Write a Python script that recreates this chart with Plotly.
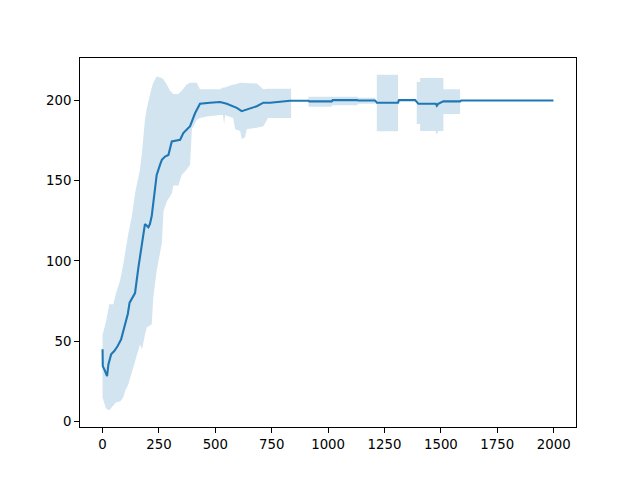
import plotly.graph_objects as go

# Mean curve
ep = [0, 1, 8, 20, 26, 38, 52, 67, 82, 97, 112, 120, 144, 159, 174, 188, 203, 210, 218,
      233, 240, 255, 263, 277, 292, 307, 344, 358, 388, 410, 432, 476, 521, 551, 595, 617, 639,
      684, 713, 743, 787, 831, 913, 916, 1016, 1020, 1129, 1133, 1208, 1216, 1310, 1314,
      1386, 1400, 1478, 1482, 1488, 1511, 1585, 1590, 1999]
mean = [45, 34.5, 32.4, 28.2, 35.5, 41.8, 43.9, 47, 51, 58.5, 67, 74, 80, 96, 110.8, 123, 121, 123, 128,
        146, 153.6, 160, 163, 165, 166, 174.5, 175.5, 179.7, 184, 192, 198, 198.6, 199, 198, 195.4, 193.3, 194.4,
        196.4, 198.6, 198.6, 199.2, 199.8, 199.8, 199.4, 199.4, 200.2, 200.2, 200, 200, 198.6, 198.6, 200.2,
        200.2, 197.9, 197.9, 196.7, 197.9, 199.4, 199.4, 200, 200]

# Band (mean +/- std)
band_x = [0, 15, 30, 48, 60, 78, 92, 100, 114, 129, 144, 166, 175, 188, 196, 218, 225, 240, 263, 270,
          285, 299, 307, 314, 336, 351, 373, 388, 396, 418, 432, 462, 521, 534, 539, 543, 579, 588, 610,
          617, 632, 639, 684, 713, 734, 836, 836, 913, 913, 1016, 1016, 1129, 1133, 1208, 1208,
          1216, 1216, 1310, 1310, 1393, 1393, 1408, 1408, 1476, 1482, 1488, 1511, 1511, 1585, 1585, 1999]
band_lo = [15, 8, 7, 10, 12, 12.5, 15, 19, 23, 30, 37, 48, 45, 54, 58.5, 60.6, 77, 94, 111, 131,
           137, 140, 142, 147, 147, 153.6, 157, 160, 182, 188, 189, 190, 191, 191, 185, 191, 189, 182, 181,
           176, 177, 182, 183, 184, 189, 189, 199.8, 199.8, 196, 196, 197, 197, 198, 198, 200,
           198.6, 180.8, 180.8, 200.2, 200.2, 185.4, 185.4, 181, 181, 178.7, 181, 181, 191.6, 191.6, 200, 200]
band_hi = [54, 62, 73, 73, 80, 88, 98, 105, 117, 127, 142, 157, 168, 188, 195, 208, 211, 215, 214, 213,
           210, 206, 205, 204, 204, 206, 210, 211, 211, 211, 207, 207, 207, 208, 208, 208, 210, 210, 211,
           211, 211, 211, 210.6, 207, 207.3, 207.3, 199.8, 199.8, 202.3, 202.3, 202.3, 202.3, 201.7, 201.7, 200,
           198.6, 216, 216, 200.2, 200.2, 211.5, 211.5, 214, 214, 214, 214, 214, 207, 207, 200, 200]

x_ticks = [0, 250, 500, 750, 1000, 1250, 1500, 1750, 2000]
y_ticks = [0, 50, 100, 150, 200]

color = "#1f77b4"

fig = go.Figure()
fig.add_trace(go.Scatter(
    x=band_x + band_x[::-1],
    y=band_hi + band_lo[::-1],
    fill="toself", fillcolor="rgba(31,119,180,0.2)",
    line=dict(width=0), mode="lines", hoverinfo="skip", showlegend=False,
))
fig.add_trace(go.Scatter(
    x=ep, y=mean, mode="lines", line=dict(color=color, width=2.1), showlegend=False,
))

xmin, xmax = min(band_x + ep), max(band_x + ep)
ymin, ymax = min(band_lo + mean), max(band_hi + mean)
xpad = (xmax - xmin) * 0.05
ypad = (ymax - ymin) * 0.05

axis_common = dict(
    showline=True, mirror=True, linecolor="black", linewidth=1.1,
    ticks="outside", ticklen=4.9, tickwidth=1.1, tickcolor="black",
    showgrid=False, zeroline=False,
    tickfont=dict(family="DejaVu Sans", size=13.3, color="black"),
)
fig.update_xaxes(range=[xmin - xpad, xmax + xpad], tickvals=x_ticks, **axis_common)
fig.update_yaxes(range=[ymin - ypad, ymax + ypad], tickvals=y_ticks, **axis_common)

# page body has an 8px default margin, so the figure is offset by 8px
fig.update_layout(
    width=632, height=472,
    margin=dict(l=72, r=64, t=50, b=53, pad=0),
    plot_bgcolor="white", paper_bgcolor="white",
)

fig.write_html("out.html")
